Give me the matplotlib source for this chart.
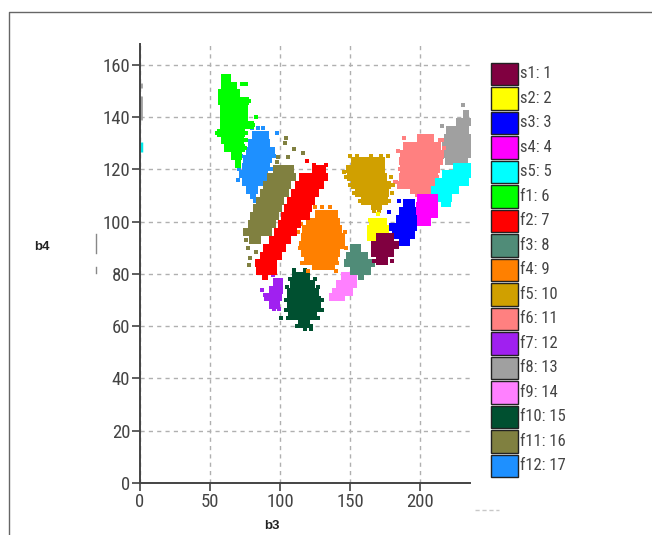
import matplotlib
matplotlib.use("Agg")
import matplotlib.pyplot as plt
from matplotlib.lines import Line2D
from matplotlib.patches import Rectangle

plt.rcParams["font.family"] = ["Roboto Condensed", "Liberation Sans", "DejaVu Sans"]

W, H = 652, 535

names = ["s1: 1", "s2: 2", "s3: 3", "s4: 4", "s5: 5", "f1: 6", "f2: 7", "f3: 8", "f4: 9",
         "f5: 10", "f6: 11", "f7: 12", "f8: 13", "f9: 14", "f10: 15", "f11: 16", "f12: 17"]
colors = ["#800040", "#ffff00", "#0000ff", "#ff00ff", "#00ffff", "#00ff00", "#ff0000", "#508c78",
          "#ff8000", "#d0a000", "#ff8080", "#a020f0", "#a0a0a0", "#ff80ff", "#005030", "#808040",
          "#1e90ff"]

# each cluster: b4 value -> b3 values
s1 = {94: [171, 175, 179], 91: [167, 171, 175, 179, 183], 88: [167, 171, 175, 179],
      85: [171, 175]}
s2 = {100: [166, 170, 174], 97: [164, 168, 172, 176], 94: [164, 168, 172]}
s3 = {107: [190, 194], 104: [187, 191, 195], 101: [185, 189, 193, 196],
      98: [180, 184, 188, 192, 196], 95: [182, 186, 190, 194], 92: [187, 191]}
s4 = {109: [200, 204, 208, 211], 106: [199, 203, 207, 211], 103: [199, 203, 207, 211],
      100: [198, 202, 206]}
s5 = {121: [226, 230, 234], 118: [218, 222, 226, 230, 234],
      115: [213, 217, 221, 225, 229, 233], 112: [210, 214, 218, 222, 226],
      109: [213, 217, 221], 107: [217, 220]}
f1 = {155: [60, 63], 152: [60, 64, 67], 149: [58, 62, 66, 69],
      146: [58, 62, 66, 70, 74, 76], 143: [59, 63, 67, 71, 75], 140: [59, 63, 67, 71, 75],
      137: [59, 63, 67, 71, 75, 79], 134: [57, 61, 65, 69, 73], 131: [60, 64, 68, 72],
      128: [62, 66, 70, 73], 125: [67, 71], 122: [70]}
f2 = {120: [125, 128, 131], 117: [116, 120, 124, 128, 132],
      114: [113, 117, 121, 125, 129], 111: [110, 114, 118, 122, 126],
      108: [107, 111, 115, 119, 123], 105: [105, 109, 113, 117, 121],
      102: [103, 107, 111, 115, 119], 99: [101, 105, 109, 113],
      96: [98, 102, 106, 110], 93: [94, 98, 102, 106], 90: [90, 94, 98, 102],
      87: [88, 92, 96, 99], 84: [84, 88, 92, 96], 81: [85, 89, 93, 96], 79: [89]}
f3 = {90: [152, 156], 87: [149, 153, 157, 161], 84: [148, 152, 156, 160, 164, 166],
      81: [152, 156, 160, 163], 79: [158]}
f4 = {103: [127, 131, 135, 139], 100: [121, 125, 129, 133, 137, 141],
      97: [118, 122, 126, 130, 134, 138, 142], 94: [117, 121, 125, 129, 133, 137, 141, 144],
      91: [116, 120, 124, 128, 132, 136, 140, 144], 88: [117, 121, 125, 129, 133, 137, 141],
      85: [119, 123, 127, 131, 135, 139], 83: [125, 129, 133, 137]}
f5 = {123: [153, 157, 161, 165, 169, 173], 120: [149, 153, 157, 161, 165, 169, 173],
      117: [150, 154, 158, 162, 166, 170, 174], 114: [153, 157, 161, 165, 169, 173, 177],
      111: [156, 160, 164, 168, 172, 176], 108: [160, 164, 168, 172, 175], 106: [167, 171]}
f6 = {132: [200, 204, 208], 129: [190, 194, 198, 202, 206, 210, 213],
      126: [188, 192, 196, 200, 204, 208, 212, 215], 123: [187, 191, 195, 199, 203, 207, 211, 214],
      120: [188, 192, 196, 200, 204, 208, 212], 117: [187, 191, 195, 199, 203, 207, 211],
      114: [186, 190, 194, 198, 202, 206, 209], 112: [195, 199, 203, 206]}
f7 = {77: [97, 100], 74: [94, 97, 100], 71: [91, 95, 99], 68: [94, 98]}
f8 = {141: [233], 138: [228, 232, 234], 135: [221, 225, 229, 233],
      132: [219, 223, 227, 231, 234], 129: [218, 222, 226, 230, 234], 126: [218, 222, 226, 230, 234],
      123: [220, 224, 228, 232]}
f9 = {79: [146, 150, 153], 76: [142, 146, 150, 153], 73: [139, 143, 147, 150], 71: [137, 141, 144]}
f10 = {79: [111, 115, 119], 76: [109, 113, 117, 121, 123], 73: [107, 111, 115, 119, 123, 126],
       70: [107, 111, 115, 119, 123, 127], 67: [107, 111, 115, 119, 123, 127],
       64: [108, 112, 116, 120, 124], 61: [115, 119]}
f11 = {120: [97, 101, 105, 108], 117: [93, 97, 101, 105, 109], 114: [90, 94, 98, 102, 106],
       111: [88, 92, 96, 100, 104], 108: [85, 89, 93, 97, 101], 105: [83, 87, 91, 95, 99],
       102: [81, 85, 89, 93, 97], 99: [79, 83, 87, 91, 95], 96: [76, 80, 84, 88, 92], 93: [80, 84]}
f12 = {133: [82, 86, 90], 130: [79, 83, 87, 91], 127: [78, 82, 86, 90, 94],
       124: [76, 80, 84, 88, 92], 121: [75, 79, 83, 87, 91], 118: [73, 77, 81, 85, 89],
       115: [75, 79, 83, 87], 112: [78, 82], 110: [81]}
clusters = [s1, s2, s3, s4, s5, f1, f2, f3, f4, f5, f6, f7, f8, f9, f10, f11, f12]

# loose points round the clusters, drawn smaller
s1_loose = {85: [167, 180]}
s2_loose = {103: [170], 100.6: [164]}
s3_loose = {108: [185], 103.6: [178]}
f1_loose = {152.6: [73, 76], 146: [78], 140: [83], 137: [81], 134: [55, 76], 131: [76], 128: [75]}
f2_loose = {123: [119], 121.6: [133, 124]}
f4_loose = {105.5: [125, 130, 136], 102: [117], 99: [115], 96: [113, 146.5], 90: [114, 147],
            84: [116, 141], 81: [120, 140]}
f5_loose = {125: [150, 155, 165, 172, 177], 119: [146], 117: [147, 179], 114: [150, 181],
            111: [153, 180], 108: [157, 178], 104: [167, 171]}
f6_loose = {132: [188.6], 131: [214, 216], 128: [217], 127: [184.5], 120: [186], 117: [212],
            115: [182, 183], 110: [198, 203]}
f7_loose = {79.5: [95], 74: [87], 72: [89], 66.5: [96, 99]}
f8_loose = {144.5: [231], 136.5: [215.5], 124.8: [216]}
f10_loose = {81.5: [110, 118], 78: [107, 125], 75: [105, 127], 70: [104, 130], 66: [104, 130],
             63: [101, 106, 127], 60: [112, 116, 120, 122], 59: [118, 122]}
f11_loose = {131.8: [104.3], 130: [103.6], 127.6: [110], 126.3: [116.7], 124.8: [106, 98.8],
             122.9: [97.6], 93: [76], 90: [77], 88.5: [83], 86: [78.6], 83.4: [78]}
f12_loose = {135.7: [80, 84, 88], 134: [97.6], 125: [72, 96], 120: [71, 94], 116: [70, 90], 108: [82]}
loose = [s1_loose, s2_loose, s3_loose, {}, {}, f1_loose, f2_loose, {}, f4_loose, f5_loose, f6_loose,
         f7_loose, f8_loose, {}, f10_loose, f11_loose, f12_loose]

# points sitting on the b4 axis
edge_f8_low = [139, 148]
edge_f8_high = [151, 153]
edge_s5 = [126.5, 130.5]

x_ticks = [0, 50, 100, 150, 200]
y_ticks = [0, 20, 40, 60, 80, 100, 120, 140, 160]

# tall block so the rows close up
block = [(-0.75, -1), (0.75, -1), (0.75, 1), (-0.75, 1), (-0.75, -1)]

fig = plt.figure(figsize=(W / 100, H / 100), dpi=100)
ax = fig.add_axes([140 / W, (H - 483) / H, 330 / W, 439 / H])
ax.set_xlim(0, 235.7)
ax.set_ylim(0, 167.9)

ax.spines["top"].set_visible(False)
ax.spines["right"].set_visible(False)
for side in ["left", "bottom"]:
    ax.spines[side].set_color("#444444")
    ax.spines[side].set_linewidth(1.4)

ax.set_xticks(x_ticks)
ax.set_yticks(y_ticks)
ax.tick_params(length=5.5, width=1.1, color="#333333", labelcolor="#444444", labelsize=13.5, pad=1.5)
ax.grid(True, color="#b0b0b0", linestyle=(0, (3, 3)), linewidth=1)
ax.set_axisbelow(True)

# last classes go underneath, as in the original
for cluster, extra, color in reversed(list(zip(clusters, loose, colors))):
    xs = [x for y, row in cluster.items() for x in row]
    ys = [y for y, row in cluster.items() for _ in row]
    ax.scatter(xs, ys, s=34, marker=block, color=color, linewidths=0)
    xs = [x for y, row in extra.items() for x in row]
    ys = [y for y, row in extra.items() for _ in row]
    ax.scatter(xs, ys, s=8.5, marker="s", color=color, linewidths=0)

ax.vlines(1, edge_f8_low[0], edge_f8_low[1], color="#a0a0a0", linewidth=2)
ax.vlines(1, edge_f8_high[0], edge_f8_high[1], color="#a0a0a0", linewidth=2)
ax.vlines(1, edge_s5[0], edge_s5[1], color="#00e8e8", linewidth=2.5)

# legend swatches down the right side
for i, (name, color) in enumerate(zip(names, colors)):
    top = 62.7 + i * 24.5
    fig.add_artist(Rectangle((490.5 / W, 1 - (top + 22.3) / H), 27.5 / W, 22.3 / H, facecolor=color,
                             edgecolor="#222222", linewidth=1, transform=fig.transFigure))
    fig.text(520 / W, 1 - (top + 11) / H, name, fontsize=12, color="#444444", va="center", ha="left")

fig.text(272 / W, 1 - 526 / H, "b3", fontsize=9.5, fontweight="bold", family=["Liberation Sans"],
         ha="center", va="center", color="#222222")
fig.text(42 / W, 1 - 247 / H, "b4", fontsize=9.5, fontweight="bold", family=["Liberation Sans"],
         ha="center", va="center", color="#222222")

# page frame and the stray marks around it
fig.add_artist(Line2D([9 / W, 9 / W, 1], [0, 1 - 12 / H, 1 - 12 / H], color="#666666", linewidth=1))
fig.add_artist(Line2D([96 / W, 96 / W], [1 - 234 / H, 1 - 253 / H], color="#888888", linewidth=1))
fig.add_artist(Line2D([96 / W, 96 / W], [1 - 267 / H, 1 - 273 / H], color="#888888", linewidth=1))
fig.add_artist(Line2D([475 / W, 499 / W], [1 - 510 / H, 1 - 510 / H], color="#c8c8c8", linewidth=1,
                      linestyle=(0, (3, 2))))

fig.savefig("out.png", dpi=100)
